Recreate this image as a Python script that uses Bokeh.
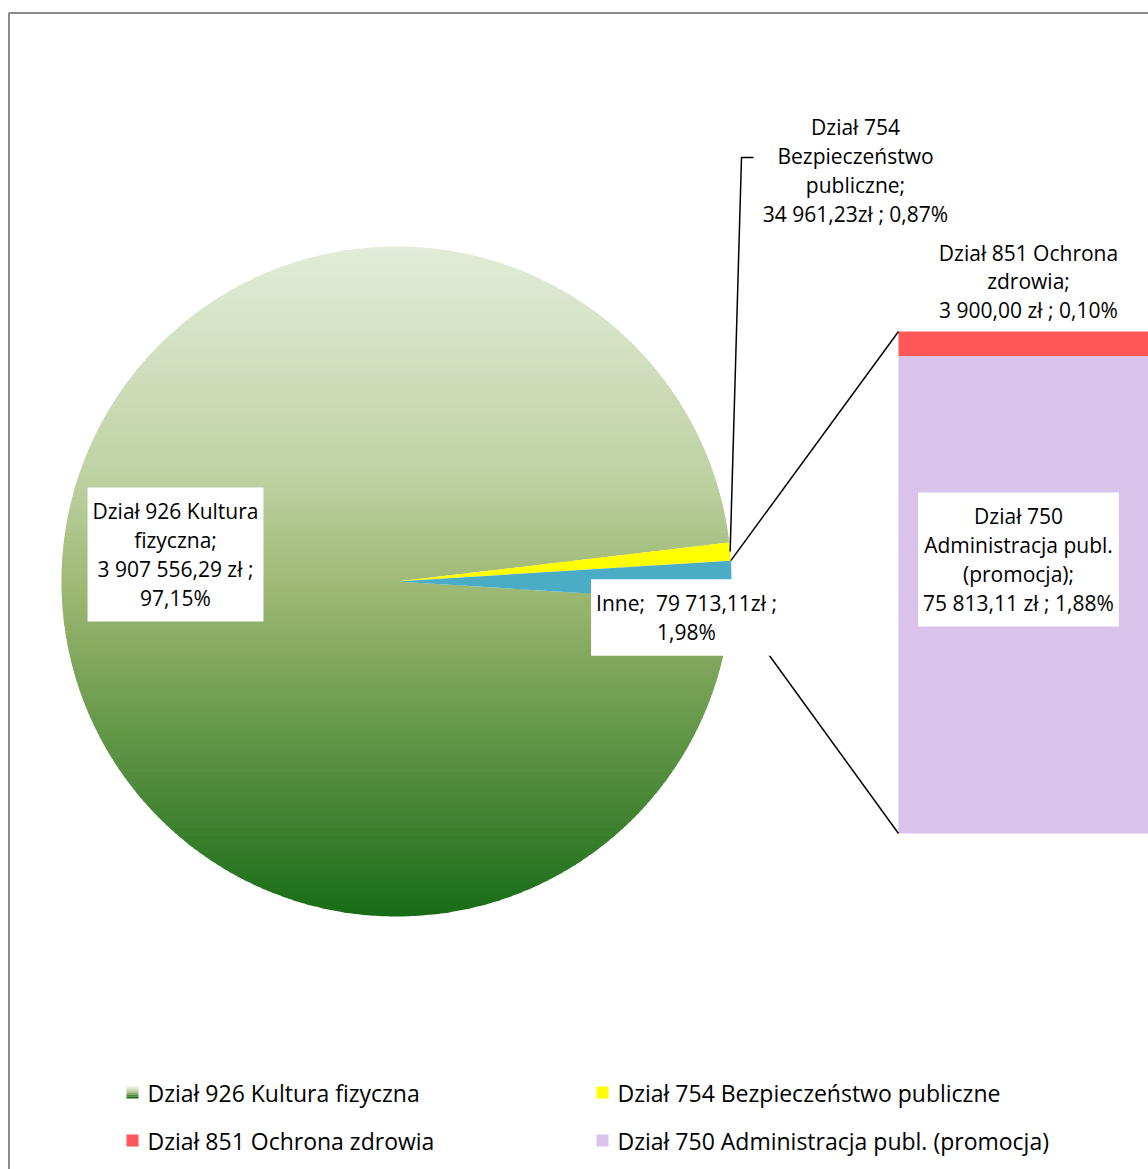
import numpy as np
from bokeh.plotting import figure
from bokeh.models import ColumnDataSource, Range1d, Label
from bokeh.core.properties import value
from bokeh.embed import file_html
from bokeh.resources import INLINE

# ---------------- data ----------------
pie_names = ["Dział 926 Kultura fizyczna", "Dział 754 Bezpieczeństwo publiczne", "Inne"]
pie_values = [3907556.29, 34961.23, 79713.11]
pie_colors = [None, "#ffff00", "#4bacc6"]

bar_names = ["Dział 851 Ochrona zdrowia", "Dział 750 Administracja publ. (promocja)"]
bar_values = [3900.00, 75813.11]
bar_colors = ["#ff5757", "#dac3ea"]

label_926 = "Dział 926 Kultura\nfizyczna;\n3 907 556,29 zł ;\n97,15%"
label_754 = "Dział 754\nBezpieczeństwo\npubliczne;\n34 961,23zł ; 0,87%"
label_inne = "Inne;\u00a0 79 713,11zł ;\n1,98%"
label_851 = "Dział 851 Ochrona\nzdrowia;\n3 900,00 zł ; 0,10%"
label_750 = "Dział 750\nAdministracja publ.\n(promocja);\n75 813,11 zł ; 1,88%"

legend_names = ["Dział 926 Kultura fizyczna", "Dział 754 Bezpieczeństwo publiczne",
                "Dział 851 Ochrona zdrowia", "Dział 750 Administracja publ. (promocja)"]
legend_colors = ["#5f9a45", "#ffff00", "#ff5757", "#dac3ea"]

green_stops = [(0.0, (226, 236, 216)), (0.33, (192, 211, 166)), (0.5, (160, 186, 118)),
               (0.62, (128, 167, 91)), (0.8, (80, 140, 60)), (1.0, (24, 108, 22))]

FONT = "Open Sans"

# ---------------- figure (data coords == screen pixel coords) ----------------
W, H = 1148, 1169
p = figure(width=W, height=H, output_backend="svg", toolbar_location=None,
           x_range=Range1d(0, W), y_range=Range1d(H, 0),
           x_axis_location=None, y_axis_location=None, min_border=0)
p.grid.visible = False
p.outline_line_color = None
p.background_fill_color = "white"

# chart frame (top and left edges visible)
p.line(x=[8.5, 8.5, 1160], y=[1180, 12.5, 12.5], line_color="#8c8c8c", line_width=2)

CX, CY, R = 396.0, 581.0, 335.0
total = sum(pie_values)
angles = [v / total * 2 * np.pi for v in pie_values]
a_inne = angles[2]
a754 = angles[1]

start_inne = -a_inne / 2
end_inne = a_inne / 2
start_754 = end_inne
end_754 = start_754 + a754
start_926 = end_754
end_926 = 2 * np.pi - a_inne / 2


def pt(a, r=R):
    return CX + r * np.cos(a), CY - r * np.sin(a)


def wedge_poly(a0, a1, n=400):
    t = np.linspace(a0, a1, n)
    xs = [CX] + list(CX + R * np.cos(t))
    ys = [CY] + list(CY - R * np.sin(t))
    return xs, ys


def clip(poly, yv, keep_above):
    out = []
    n = len(poly)
    for i in range(n):
        cur = poly[i]
        prv = poly[i - 1]
        inside_c = cur[1] >= yv if keep_above else cur[1] <= yv
        inside_p = prv[1] >= yv if keep_above else prv[1] <= yv
        if inside_c:
            if not inside_p:
                t = (yv - prv[1]) / (cur[1] - prv[1])
                out.append((prv[0] + t * (cur[0] - prv[0]), yv))
            out.append(cur)
        elif inside_p:
            t = (yv - prv[1]) / (cur[1] - prv[1])
            out.append((prv[0] + t * (cur[0] - prv[0]), yv))
    return out


def grad(f):
    for (f0, c0), (f1, c1) in zip(green_stops[:-1], green_stops[1:]):
        if f0 <= f <= f1:
            t = (f - f0) / (f1 - f0)
            c = [int(round(c0[k] + t * (c1[k] - c0[k]))) for k in range(3)]
            return "#%02x%02x%02x" % tuple(c)
    return "#%02x%02x%02x" % green_stops[-1][1]


# green slice with vertical gradient (banded)
gx, gy = wedge_poly(start_926, end_926, 720)
gpoly = list(zip(gx, gy))
nb = 168
edges = np.linspace(CY - R, CY + R, nb + 1)
bxs, bys, bcs = [], [], []
for i in range(nb):
    y0, y1 = edges[i] - 0.6, edges[i + 1] + 0.6
    poly = clip(clip(gpoly, y0, True), y1, False)
    if len(poly) < 3:
        continue
    bxs.append([q[0] for q in poly])
    bys.append([q[1] for q in poly])
    bcs.append(grad(((edges[i] + edges[i + 1]) / 2 - (CY - R)) / (2 * R)))
p.patches(xs=bxs, ys=bys, fill_color=bcs, line_color=None)

# small slices
for (a0, a1), col in [((start_754, end_754), pie_colors[1]), ((start_inne, end_inne), pie_colors[2])]:
    xs, ys = wedge_poly(a0, a1, 60)
    p.patch(x=xs, y=ys, fill_color=col, line_color=None)

# bar of pie
BX0, BX1, BTOP, BBOT = 898.0, 1170.0, 331.0, 833.0
scale = (BBOT - BTOP) / sum(bar_values)
tops, bots = [], []
cur = BTOP
for v in bar_values:
    tops.append(cur)
    cur += v * scale
    bots.append(cur)
p.quad(left=[BX0] * 2, right=[BX1] * 2, top=tops, bottom=bots, fill_color=bar_colors, line_color=None)

# connector lines
ux, uy = pt(end_inne)
lx, ly = pt(start_inne)
p.line(x=[ux, BX0], y=[uy, BTOP], line_color="black", line_width=1.5)
t0 = 0.205
p.line(x=[lx + t0 * (BX0 - lx), BX0], y=[ly + t0 * (BBOT - ly), BBOT], line_color="black", line_width=1.5)

# leader line for 754
mx, my = pt((start_754 + end_754) / 2)
p.line(x=[mx, 741, 753], y=[my, 157, 157], line_color="black", line_width=1.5)

# data labels
def lab(x, y, text, box):
    kw = dict(x=x, y=y, text=text, text_align="center", text_baseline="middle",
              text_font=FONT, text_font_size="21px", text_color="black",
              text_line_height=1.025)
    if box:
        kw.update(background_fill_color="white", background_fill_alpha=1.0, padding=(5, 10))
    p.add_layout(Label(**kw))

lab(175, 554, label_926, True)
lab(686, 617, label_inne, True)
lab(855, 170, label_754, False)
lab(1028, 281, label_851, False)
lab(1018, 559, label_750, True)

# legend (manual)
lgx = [132, 602, 132, 602]
lgy = [1092, 1092, 1140, 1140]
for i in range(4):
    if i == 0:
        for k in range(6):
            yk = lgy[i] - 6 + k * 2 + 1
            p.quad(left=[lgx[i] - 6], right=[lgx[i] + 6], top=[yk - 1], bottom=[yk + 1],
                   fill_color=grad(k / 5), line_color=None)
    else:
        p.quad(left=[lgx[i] - 6], right=[lgx[i] + 6], top=[lgy[i] - 6], bottom=[lgy[i] + 6],
               fill_color=legend_colors[i], line_color=None)
src = ColumnDataSource(dict(x=[x + 15 for x in lgx], y=lgy, t=legend_names))
p.text(x="x", y="y", text="t", source=src, text_font=value(FONT), text_font_size="23px",
       text_baseline="middle", text_align="left", text_color="black")

open("out.html", "w").write(file_html(p, INLINE))
